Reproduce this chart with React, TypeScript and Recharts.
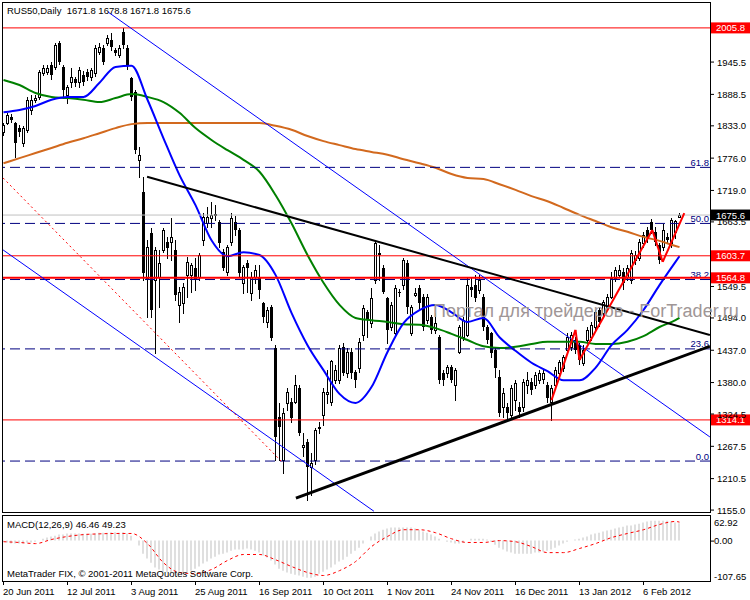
import React from "react";
import { ComposedChart, Bar, Line, XAxis, YAxis, ReferenceLine } from "recharts";

const FONT = '"Liberation Sans", Arial, sans-serif';

// daily candles, 20 Jun 2011 .. 17 Feb 2012
const opens = [
  1822, 1838, 1849, 1838, 1829, 1803, 1826, 1861, 1879, 1884,
  1926, 1928, 1940, 1937, 1979, 1937, 1887, 1910, 1916, 1910,
  1923, 1928, 1919, 1926, 1963, 1970, 1979, 1984, 1967, 1958,
  1999, 1970, 1917, 1893, 1773, 1716, 1564, 1644, 1561, 1566,
  1614, 1628, 1628, 1614, 1517, 1520, 1570, 1570, 1582, 1566,
  1631, 1661, 1670, 1676, 1663, 1610, 1575, 1628, 1663, 1649,
  1556, 1591, 1538, 1566, 1566, 1520, 1487, 1513, 1441, 1319,
  1243, 1344, 1346, 1346, 1370, 1266, 1275, 1231, 1243, 1300,
  1323, 1360, 1346, 1384, 1384, 1443, 1397, 1434, 1399, 1406,
  1464, 1504, 1485, 1561, 1609, 1582, 1529, 1478, 1467, 1540,
  1552, 1591, 1467, 1534, 1547, 1531, 1490, 1496, 1473, 1460,
  1397, 1397, 1407, 1376, 1434, 1460, 1464, 1549, 1552, 1543,
  1531, 1478, 1467, 1437, 1390, 1337, 1337, 1323, 1349, 1337,
  1337, 1376, 1381, 1376, 1384, 1386, 1376, 1346, 1376, 1397,
  1406, 1437, 1443, 1455, 1446, 1415, 1455, 1460, 1478, 1508,
  1503, 1513, 1531, 1564, 1570, 1575, 1566, 1561, 1596, 1600,
  1626, 1649, 1663, 1646, 1623, 1619, 1637, 1626, 1645, 1671.8,
];
const highs = [
  1838, 1855, 1854, 1840, 1834, 1833, 1884, 1887, 1887, 1931,
  1940, 1941, 1946, 1980, 1983, 1940, 1905, 1935, 1920, 1937,
  1930, 1933, 1935, 1975, 1980, 1975, 1994, 1996, 1970, 1975,
  2006, 1976, 1920, 1896, 1796, 1743, 1631, 1653, 1619, 1614,
  1653, 1637, 1670, 1631, 1549, 1555, 1601, 1591, 1600, 1609,
  1679, 1690, 1698, 1693, 1667, 1615, 1623, 1679, 1674, 1653,
  1587, 1596, 1575, 1587, 1587, 1522, 1513, 1517, 1446, 1344,
  1335, 1370, 1353, 1393, 1376, 1291, 1280, 1256, 1300, 1310,
  1370, 1402, 1420, 1411, 1446, 1450, 1441, 1441, 1402, 1459,
  1517, 1508, 1547, 1631, 1623, 1587, 1531, 1522, 1552, 1545,
  1600, 1596, 1517, 1546, 1552, 1536, 1536, 1499, 1503, 1464,
  1402, 1411, 1411, 1406, 1482, 1496, 1564, 1564, 1570, 1570,
  1536, 1482, 1470, 1441, 1402, 1370, 1344, 1376, 1384, 1346,
  1386, 1399, 1388, 1399, 1402, 1402, 1381, 1376, 1407, 1420,
  1429, 1467, 1470, 1460, 1450, 1446, 1478, 1487, 1508, 1513,
  1526, 1536, 1575, 1584, 1587, 1582, 1587, 1614, 1612, 1633,
  1646, 1655, 1668, 1655, 1626, 1660, 1644, 1670, 1667, 1678.8,
];
const lows = [
  1817, 1836, 1840, 1778, 1815, 1797, 1822, 1853, 1875, 1880,
  1922, 1925, 1916, 1934, 1942, 1882, 1873, 1902, 1904, 1902,
  1905, 1914, 1914, 1921, 1960, 1942, 1976, 1967, 1958, 1954,
  1970, 1934, 1879, 1785, 1743, 1561, 1496, 1496, 1432, 1513,
  1610, 1600, 1596, 1526, 1487, 1503, 1531, 1540, 1543, 1561,
  1623, 1655, 1654, 1667, 1619, 1578, 1570, 1623, 1640, 1566,
  1538, 1540, 1526, 1556, 1529, 1487, 1478, 1455, 1243, 1243,
  1220, 1331, 1310, 1344, 1287, 1250, 1173, 1182, 1236, 1291,
  1305, 1344, 1340, 1379, 1379, 1393, 1390, 1388, 1372, 1399,
  1455, 1460, 1478, 1556, 1561, 1538, 1450, 1472, 1462, 1532,
  1545, 1503, 1464, 1532, 1508, 1473, 1485, 1467, 1467, 1379,
  1376, 1390, 1381, 1349, 1432, 1455, 1462, 1532, 1524, 1538,
  1473, 1450, 1425, 1390, 1321, 1320, 1316, 1318, 1331, 1320,
  1330, 1362, 1360, 1370, 1380, 1379, 1346, 1314, 1370, 1390,
  1400, 1432, 1437, 1432, 1413, 1411, 1450, 1455, 1473, 1480,
  1496, 1508, 1529, 1560, 1566, 1545, 1561, 1556, 1590, 1596,
  1620, 1628, 1644, 1623, 1591, 1614, 1626, 1620, 1635, 1671.8,
];
const closes = [
  1834, 1852, 1843, 1803, 1822, 1829, 1879, 1879, 1882, 1928,
  1935, 1935, 1923, 1976, 1946, 1896, 1901, 1919, 1909, 1931,
  1910, 1919, 1931, 1970, 1972, 1946, 1988, 1972, 1961, 1970,
  1976, 1940, 1884, 1790, 1782, 1573, 1619, 1508, 1614, 1591,
  1649, 1617, 1637, 1534, 1540, 1549, 1593, 1587, 1561, 1605,
  1672, 1672, 1676, 1677, 1626, 1582, 1619, 1670, 1649, 1573,
  1584, 1582, 1566, 1579, 1543, 1496, 1508, 1459, 1284, 1302,
  1326, 1363, 1317, 1376, 1291, 1270, 1231, 1238, 1296, 1302,
  1363, 1364, 1418, 1402, 1441, 1397, 1434, 1397, 1384, 1452,
  1512, 1490, 1529, 1626, 1605, 1540, 1473, 1517, 1547, 1538,
  1596, 1513, 1513, 1538, 1520, 1478, 1531, 1473, 1485, 1384,
  1384, 1407, 1384, 1402, 1478, 1490, 1552, 1543, 1529, 1561,
  1478, 1455, 1432, 1406, 1326, 1362, 1326, 1370, 1379, 1328,
  1381, 1384, 1367, 1393, 1397, 1397, 1353, 1370, 1402, 1416,
  1425, 1460, 1464, 1437, 1420, 1437, 1473, 1482, 1504, 1487,
  1522, 1531, 1564, 1579, 1579, 1556, 1582, 1609, 1605, 1628,
  1640, 1635, 1649, 1628, 1596, 1649, 1631, 1667, 1665, 1675.6,
];

// moving averages and MACD signal read every 4th bar
const maIndex = [
  0, 4, 8, 12, 16, 20, 24, 28, 32, 36, 40, 44, 48, 52, 56, 60, 64, 68, 72, 76, 80, 84,
  88, 92, 96, 100, 104, 108, 112, 116, 120, 124, 128, 132, 136, 140, 144, 148, 152, 156,
  160, 164, 168, 169,
];
const fastMA = [
  1857, 1861, 1868, 1879, 1884, 1884, 1909, 1937, 1939, 1879, 1811, 1746, 1693, 1631,
  1603, 1610, 1605, 1570, 1503, 1446, 1402, 1360, 1344, 1372, 1434, 1485, 1508, 1517,
  1504, 1487, 1494, 1460, 1436, 1415, 1400, 1384, 1384, 1406, 1446, 1473, 1508, 1552,
  1593, 1603,
];
const midMA = [
  1914, 1905, 1891, 1884, 1882, 1879, 1875, 1882, 1889, 1884, 1875, 1856, 1829, 1808,
  1790, 1773, 1752, 1711, 1661, 1605, 1556, 1517, 1494, 1490, 1487, 1483, 1482, 1476,
  1466, 1455, 1444, 1441, 1443, 1448, 1452, 1452, 1452, 1448, 1448, 1452, 1462, 1478,
  1490, 1494,
];
const slowMA = [
  1767, 1776, 1785, 1794, 1803, 1811, 1820, 1829, 1836, 1838, 1838, 1838, 1838, 1838,
  1838, 1838, 1838, 1833, 1826, 1815, 1806, 1799, 1792, 1787, 1782, 1774, 1767, 1759,
  1748, 1741, 1739, 1730, 1720, 1709, 1700, 1688, 1676, 1665, 1654, 1646, 1637, 1630,
  1621, 1619,
];
const macdSignal = [
  -3, -5, -8, 3, 11, 16, 18, 19, 19, -8, -59, -85, -88, -77, -53, -37, -37, -51, -69, -85,
  -93, -80, -56, -16, 11, 29, 29, 21, 5, -5, -5, 0, -3, -16, -32, -32, -21, -8, 8, 19,
  29, 43, 51, 49.23,
];
const macdHist = [
  -3, -5, -8, -8, -8, -8, -5, -5, -3, 0,
  5, 8, 11, 13, 16, 16, 19, 19, 19, 19,
  18, 18, 18, 19, 21, 21, 21, 22, 22, 21,
  22, 19, 13, 0, -13, -35, -48, -59, -72, -77,
  -83, -85, -88, -88, -88, -88, -85, -80, -75, -69,
  -61, -56, -48, -43, -37, -35, -32, -27, -24, -24,
  -24, -21, -24, -27, -32, -40, -45, -53, -64, -75,
  -80, -85, -88, -91, -93, -96, -99, -99, -96, -88,
  -83, -77, -72, -64, -56, -51, -43, -35, -27, -19,
  -8, 0, 11, 19, 24, 29, 32, 35, 35, 35,
  35, 35, 35, 32, 29, 24, 21, 16, 11, 5,
  0, -3, -5, -8, -8, -5, 0, 5, 5, 5,
  5, 3, -3, -11, -19, -24, -29, -32, -35, -35,
  -35, -35, -35, -32, -32, -29, -27, -24, -19, -13,
  -8, -3, 0, 3, 5, 8, 11, 16, 19, 21,
  24, 27, 29, 32, 35, 37, 40, 40, 43, 45,
  48, 51, 53, 53, 53, 53, 53, 51, 48, 46.46,
];

const dateTicks = [0, 16, 32, 48, 64, 80, 96, 112, 128, 144, 160];
const dateLabels = [
  "20 Jun 2011", "12 Jul 2011", "3 Aug 2011", "25 Aug 2011", "16 Sep 2011", "10 Oct 2011",
  "1 Nov 2011", "24 Nov 2011", "16 Dec 2011", "13 Jan 2012", "6 Feb 2012",
];
const priceTicks = [
  1945.5, 1888.5, 1833.0, 1776.0, 1719.0, 1663.5, 1549.5, 1494.0, 1437.0, 1380.0,
  1324.5, 1267.5, 1210.5, 1155.0,
];
const redLevels = [2005.8, 1603.7, 1564.8, 1314.1];
const lastPrice = 1675.6;
const fibNames = ["0.0", "23.6", "38.2", "50.0", "61.8"];
const fibPrices = [1241.5, 1439.4, 1561.8, 1660.8, 1759.7];

// hand drawn objects: [index, price] end points
const upperTrend = [[35.9, 1743], [176.6, 1464]];
const lowerTrend = [[73.1, 1176], [176.6, 1444]];
const channelTop = [[26.1, 2034], [176.6, 1284]];
const channelBottom = [[-0.1, 1614], [92.6, 1153]];
const dottedLine = [[-0.1, 1741], [69.6, 1240]];
const waveX = [137, 143, 144, 162.2, 164.8, 170.2];
const waveY = [1349, 1473, 1420, 1649, 1593, 1679];

const rows: any[] = closes.map((c, i) => ({
  i,
  o: opens[i],
  h: highs[i],
  l: lows[i],
  c,
  range: [lows[i], highs[i]],
  hist: macdHist[i],
}));
maIndex.forEach((idx, k) => {
  rows[idx].fast = fastMA[k];
  rows[idx].mid = midMA[k];
  rows[idx].slow = slowMA[k];
  rows[idx].sig = macdSignal[k];
});

const X_DOMAIN: [number, number] = [-0.375, 176.625];

const Candle = (props: any) => {
  const { x, y, width, height, payload } = props;
  if (x == null || y == null) return null;
  const { o, h, l, c } = payload;
  const top0 = height >= 0 ? y : y + height;
  const hgt = Math.abs(height);
  const span = h - l || 1;
  const py = (p: number) => top0 + ((h - p) / span) * hgt;
  const cx = Math.round(x + width / 2 - 0.5);
  const bTop = Math.round(py(Math.max(o, c)));
  const bBot = Math.round(py(Math.min(o, c)));
  const up = c >= o;
  return (
    <g>
      <line x1={cx + 0.5} x2={cx + 0.5} y1={Math.round(top0)} y2={Math.round(top0 + hgt) + 1} stroke="#000" />
      {up ? (
        <rect x={cx - 0.5} y={bTop + 0.5} width={2} height={Math.max(bBot - bTop, 1)} fill="#fff" stroke="#000" />
      ) : (
        <rect x={cx - 1} y={bTop} width={3} height={Math.max(bBot - bTop, 1)} fill="#000" />
      )}
    </g>
  );
};

const PriceTick = (props: any) => {
  const { x, y, payload } = props;
  return (
    <text x={x} y={y} dy={3.5} fontSize={9.5} fontFamily={FONT} fill="#000">
      {Number(payload.value).toFixed(1)}
    </text>
  );
};

const MacdTick = (props: any) => {
  const { x, y, payload } = props;
  const v = Number(payload.value);
  const dy = v > 0 ? 8.5 : v < 0 ? -1.5 : 3.5;
  return (
    <g>
      {v === 0 && <line x1={x - 7} x2={x - 3} y1={y + 0.5} y2={y + 0.5} stroke="#000" />}
      <text x={x - 3} y={y} dy={dy} fontSize={9.5} fontFamily={FONT} fill="#000">
        {v.toFixed(2)}
      </text>
    </g>
  );
};

const DateTick = (props: any) => {
  const { x, y, payload } = props;
  const k = dateTicks.indexOf(payload.value);
  return (
    <text x={x - 0.5} y={y} dy={7.5} fontSize={9.5} fontFamily={FONT} fill="#000">
      {dateLabels[k]}
    </text>
  );
};

const boxLabel = (text: string, bg: string) => (props: any) => {
  const vb = props.viewBox;
  if (!vb) return null;
  const x = vb.x + vb.width + 1;
  return (
    <g>
      <rect x={x} y={vb.y - 5.5} width={40} height={11} fill={bg} />
      <text x={x + 5} y={vb.y + 3.5} fontSize={9.5} fontFamily={FONT} fill="#fff">
        {text}
      </text>
    </g>
  );
};

const fibLabel = (text: string) => (props: any) => {
  const vb = props.viewBox;
  if (!vb) return null;
  return (
    <text x={vb.x + vb.width - 1} y={vb.y - 1.5} textAnchor="end" fontSize={9.5} fontFamily={FONT} fill="#000080">
      {text}
    </text>
  );
};

const seg = (p: number[][]) => [
  { x: p[0][0], y: p[0][1] },
  { x: p[1][0], y: p[1][1] },
];

export default function App() {
  const textStyle: React.CSSProperties = {
    position: "absolute",
    fontSize: 9.5,
    lineHeight: "11px",
    color: "#000",
    whiteSpace: "nowrap",
  };
  return (
    <div
      style={{
        position: "absolute",
        left: 0,
        top: 0,
        width: 750,
        height: 600,
        background: "#fff",
        fontFamily: FONT,
        overflow: "hidden",
      }}
    >
      <div style={{ position: "absolute", left: 0, top: 0 }}>
        <ComposedChart width={750} height={515} data={rows} margin={{ top: 2, right: 0, bottom: 3, left: 2 }}>
          <XAxis dataKey="i" type="number" domain={X_DOMAIN} hide allowDataOverflow />
          <YAxis
            orientation="right"
            width={40}
            domain={[1151.6, 2051.5]}
            allowDataOverflow
            ticks={priceTicks}
            interval={0}
            tick={<PriceTick />}
            tickSize={4}
            tickMargin={3}
            tickLine={{ stroke: "#000" }}
            axisLine={false}
          />
          <Bar dataKey="range" barSize={3} shape={<Candle />} isAnimationActive={false} />
          <Line dataKey="slow" stroke="#d2691e" strokeWidth={2} dot={false} connectNulls type="monotone" isAnimationActive={false} />
          <Line dataKey="mid" stroke="#008000" strokeWidth={2} dot={false} connectNulls type="monotone" isAnimationActive={false} />
          <Line dataKey="fast" stroke="#0000ff" strokeWidth={2} dot={false} connectNulls type="monotone" isAnimationActive={false} />
          {fibPrices.map((p, k) => (
            <ReferenceLine key={"f" + k} y={p} stroke="#000080" strokeDasharray="10 5" label={fibLabel(fibNames[k])} />
          ))}
          <ReferenceLine y={lastPrice} stroke="#c0c0c0" label={boxLabel(lastPrice.toFixed(1), "#000")} />
          {redLevels.map((p, k) => (
            <ReferenceLine
              key={"r" + k}
              y={p}
              stroke="#ff0000"
              strokeWidth={p === 1564.8 ? 2 : 1}
              label={boxLabel(p.toFixed(1), "#ff0000")}
            />
          ))}
          <ReferenceLine segment={seg(channelTop)} stroke="#0000ff" strokeWidth={1} ifOverflow="hidden" />
          <ReferenceLine segment={seg(channelBottom)} stroke="#0000ff" strokeWidth={1} ifOverflow="hidden" />
          <ReferenceLine segment={seg(dottedLine)} stroke="#ff0000" strokeDasharray="2 3" ifOverflow="hidden" />
          <ReferenceLine segment={seg(upperTrend)} stroke="#000" strokeWidth={2} ifOverflow="hidden" />
          <ReferenceLine segment={seg(lowerTrend)} stroke="#000" strokeWidth={3} ifOverflow="hidden" />
          {waveX.slice(1).map((x, k) => (
            <ReferenceLine
              key={"w" + k}
              segment={[
                { x: waveX[k], y: waveY[k] },
                { x, y: waveY[k + 1] },
              ]}
              stroke="#ff0000"
              strokeWidth={2}
              ifOverflow="hidden"
            />
          ))}
        </ComposedChart>
      </div>

      <div style={{ position: "absolute", left: 0, top: 515 }}>
        <ComposedChart width={750} height={85} data={rows} margin={{ top: 2, right: 0, bottom: 0, left: 2 }}>
          <XAxis
            dataKey="i"
            type="number"
            domain={X_DOMAIN}
            allowDataOverflow
            ticks={dateTicks}
            interval={0}
            height={19}
            tick={<DateTick />}
            tickSize={4}
            tickMargin={2}
            tickLine={{ stroke: "#000" }}
            axisLine={false}
          />
          <YAxis
            orientation="right"
            width={40}
            domain={[-107.65, 62.92]}
            allowDataOverflow
            ticks={[62.92, 0, -107.65]}
            interval={0}
            tick={<MacdTick />}
            tickSize={4}
            tickMargin={3}
            tickLine={false}
            axisLine={false}
          />
          <Bar dataKey="hist" barSize={1} fill="#c0c0c0" isAnimationActive={false} />
          <Line dataKey="sig" stroke="#ff0000" strokeDasharray="3 3" dot={false} connectNulls type="monotone" isAnimationActive={false} />
        </ComposedChart>
      </div>

      <div style={{ position: "absolute", left: 2, top: 2, width: 709, height: 511, border: "1px solid #000", boxSizing: "border-box", pointerEvents: "none" }} />
      <div style={{ position: "absolute", left: 2, top: 515, width: 709, height: 67, border: "1px solid #000", boxSizing: "border-box", pointerEvents: "none" }} />

      <div style={{ ...textStyle, left: 7, top: 5 }}>RUS50,Daily&nbsp;&nbsp;1671.8 1678.8 1671.8 1675.6</div>
      <div style={{ ...textStyle, left: 7, top: 519 }}>MACD(12,26,9) 46.46 49.23</div>
      <div style={{ ...textStyle, left: 7, top: 568 }}>MetaTrader FIX, © 2001-2011 MetaQuotes Software Corp.</div>
      <div
        style={{
          position: "absolute",
          left: 433,
          top: 301,
          fontSize: 18,
          lineHeight: "20px",
          color: "#a09696",
          whiteSpace: "nowrap",
          pointerEvents: "none",
        }}
      >
        Портал для трейдеров - ForTrader.ru
      </div>
    </div>
  );
}
